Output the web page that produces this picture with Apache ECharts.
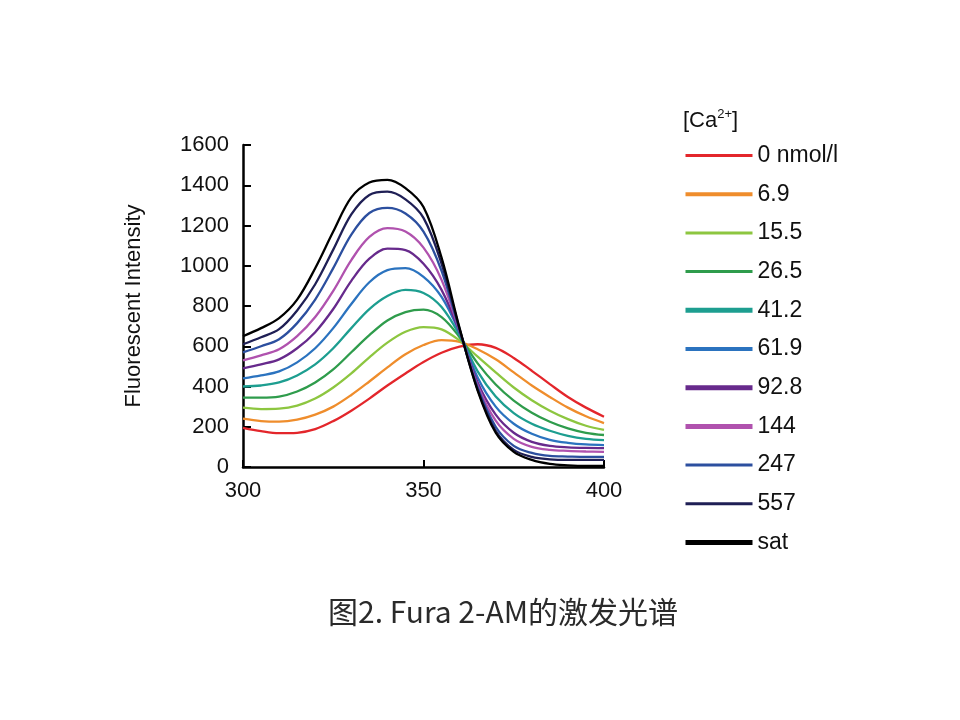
<!DOCTYPE html>
<html><head><meta charset="utf-8">
<script src="https://cdn.jsdelivr.net/npm/echarts@6/dist/echarts.min.js"></script>
<style>html,body{margin:0;padding:0;background:#fff}#c{width:960px;height:720px}</style>
</head><body><div id="c"></div>
<script>
const wavelengths = [300,305,310,315,320,325,330,335,340,345,350,355,360,365,370,375,380,385,390,395,400];
const seriesNames = ['0 nmol/l','6.9','15.5','26.5','41.2','61.9','92.8','144','247','557','sat'];
const ca0    = [195,178,168,170,188,228,280,340,405,465,522,568,598,610,592,542,478,412,348,295,250];
const ca6_9  = [240,228,225,235,260,300,358,425,495,560,606,630,622,585,535,470,405,348,295,252,218];
const ca15_5 = [295,288,290,305,340,395,465,545,618,672,695,684,628,548,470,395,332,280,238,205,184];
const ca26_5 = [345,345,350,375,420,485,570,655,728,770,782,745,645,515,410,330,270,225,192,170,159];
const ca41_2 = [400,405,420,455,510,590,690,785,850,880,865,795,655,475,350,268,215,180,155,140,134];
const ca61_9 = [440,455,475,520,590,690,810,918,978,988,945,845,668,445,300,215,165,135,120,112,109];
const ca92_8 = [490,510,535,590,670,785,925,1035,1085,1078,1010,880,672,420,260,170,125,105,98,95,94];
const ca144  = [530,555,585,650,745,875,1028,1143,1187,1170,1090,930,676,405,230,140,100,85,80,77,75];
const ca247  = [570,600,635,715,832,988,1155,1262,1288,1260,1170,975,680,395,200,105,70,55,52,50,50];
const ca557  = [610,645,685,778,908,1080,1255,1352,1368,1330,1238,1010,685,385,180,85,50,38,35,35,35];
const caSat  = [650,690,740,832,988,1170,1340,1414,1427,1386,1292,1040,690,380,170,75,35,15,8,5,5];
const allValues = [ca0,ca6_9,ca15_5,ca26_5,ca41_2,ca61_9,ca92_8,ca144,ca247,ca557,caSat];
const colors = ['#e3262b','#ef8d2c','#8dc640','#2f9c4c','#1d9e90','#2b73bf','#672a8c','#b052ae','#2c4f9f','#1f1f55','#000000'];
const legendWidths = [3,4,3,3,5,4,5,5,3,3,5];
const yTicks = [0,200,400,600,800,1000,1200,1400,1600];
const xTicks = [300,350,400];

const font = '"Liberation Sans", Arial, Helvetica, sans-serif';
const chart = echarts.init(document.getElementById('c'));
const series = seriesNames.map((n,i)=>({
  name:n, type:'line', showSymbol:false, symbol:'none', smooth:0.35,
  lineStyle:{color:colors[i], width:2.3}, itemStyle:{color:colors[i]},
  data: wavelengths.map((w,j)=>[w, allValues[i][j]]), z: 2+i
}));
chart.setOption({
  animation:false,
  grid:{left:243, right:356, top:145, bottom:253},
  xAxis:{type:'value', min:xTicks[0], max:xTicks[xTicks.length-1], interval:50,
    axisLine:{lineStyle:{color:'#000', width:2.5}},
    axisTick:{inside:true, length:7, lineStyle:{color:'#000', width:2}},
    splitLine:{show:false},
    axisLabel:{color:'#111', fontSize:22, fontFamily:font, margin:13, formatter:v=>String(v)}},
  yAxis:{type:'value', min:yTicks[0], max:yTicks[yTicks.length-1], interval:200,
    name:'Fluorescent Intensity', nameLocation:'middle', nameGap:98,
    nameTextStyle:{color:'#111', fontSize:22, fontFamily:font},
    axisLine:{show:true, lineStyle:{color:'#000', width:2.5}},
    axisTick:{inside:true, length:8, lineStyle:{color:'#000', width:2}},
    splitLine:{show:false},
    axisLabel:{color:'#111', fontSize:22, fontFamily:font, margin:14, formatter:v=>String(v)}},
  legend:{orient:'vertical', left:683, top:144, padding:0, itemWidth:67, itemHeight:14, itemGap:15.7,
    itemStyle:{opacity:0},
    textStyle:{color:'#111', fontSize:23, fontFamily:font, lineHeight:22},
    data: seriesNames.map((n,i)=>({name:n, lineStyle:{width:legendWidths[i]}}))},
  graphic:[
    {type:'text', left:683, top:108, style:{text:'[Ca{s|2+}]', font:'22px '+font, fill:'#111',
      rich:{s:{fontSize:13, fontFamily:font, verticalAlign:'top', padding:[0,0,12,0]}}}},
    {type:'text', x:503, y:612, style:{text:'图2. Fura 2-AM的激发光谱', align:'center', verticalAlign:'middle',
      font:'30px "Noto Sans CJK SC", sans-serif', fill:'#2a2a2a'}}
  ],
  series
});
</script></body></html>
